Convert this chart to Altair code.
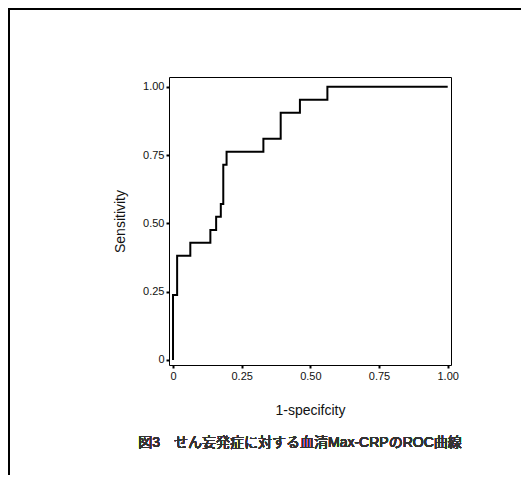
import altair as alt
import pandas as pd

# ROC curve corner points (1 - specificity, sensitivity)
fpr = [0, 0, 0.015, 0.063, 0.136, 0.157, 0.174, 0.183, 0.195, 0.329, 0.392, 0.462, 0.562, 1.0]
tpr = [0, 0.238, 0.381, 0.429, 0.476, 0.524, 0.571, 0.714, 0.762, 0.810, 0.905, 0.952, 1.0, 1.0]
tick_values = [0, 0.25, 0.5, 0.75, 1.0]
x_title = "1-specifcity"
y_title = "Sensitivity"
caption = "図3　せん妄発症に対する血清Max-CRPのROC曲線"

df = pd.DataFrame({"idx": list(range(len(fpr))), "fpr": fpr, "tpr": tpr})

W, H = 282, 288
PL, PT = 161, 69
label_expr = "datum.value == 0 ? '0' : format(datum.value, '.2f')"

line = alt.Chart(df).mark_line(
    interpolate="step-after", color="black", strokeWidth=2
).encode(
    x=alt.X("fpr:Q",
            scale=alt.Scale(domain=[-0.0146, 1.012], nice=False, zero=False),
            axis=alt.Axis(values=tick_values, labelExpr=label_expr, title=x_title,
                          titlePadding=22)),
    y=alt.Y("tpr:Q",
            scale=alt.Scale(domain=[-0.0183, 1.0355], nice=False, zero=False),
            axis=alt.Axis(values=tick_values, labelExpr=label_expr, title=y_title,
                          titlePadding=15)),
    order="idx:Q",
)

# figure border (top and left) and caption
top_border = alt.Chart(df).mark_rule(color="black", strokeWidth=2).encode(
    x=alt.value(-PL), x2=alt.value(W + 100), y=alt.value(-PT + 1)
)
left_border = alt.Chart(df).mark_rule(color="black", strokeWidth=2).encode(
    x=alt.value(-PL + 1), y=alt.value(-PT), y2=alt.value(H + 120)
)
cap = alt.Chart(df).mark_text(
    font="Liberation Sans, Noto Sans CJK JP", fontSize=14, fontWeight="normal", color="#333",
    align="center", baseline="middle"
).encode(
    x=alt.value(131), y=alt.value(366), text=alt.value(caption)
)

chart = alt.layer(line, top_border, left_border, cap).properties(
    width=W, height=H,
    autosize=alt.AutoSizeParams(type="none"),
    padding={"left": PL, "top": PT, "right": 70, "bottom": 110},
).configure_view(
    stroke="black", strokeWidth=1
).configure_axis(
    grid=False, domain=False,
    tickColor="black", tickSize=3, tickWidth=2,
    labelFont="Liberation Sans", labelFontSize=11, labelColor="#111", labelPadding=2,
    titleFont="Liberation Sans", titleFontSize=14, titleFontWeight="normal", titleColor="#111",
)

chart.save("out.html", embed_options={"renderer": "svg", "actions": False})
